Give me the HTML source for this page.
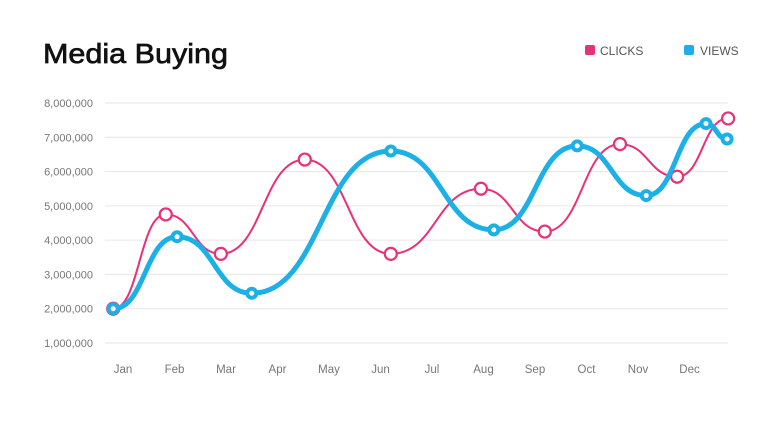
<!DOCTYPE html>
<html><head><meta charset="utf-8">
<style>
body{margin:0;background:#fff;width:768px;height:417px;overflow:hidden;font-family:"Liberation Sans",sans-serif;}
</style></head>
<body>
<svg width="768" height="417" id="chart">
<text x="43" y="63" font-size="28" textLength="185" lengthAdjust="spacingAndGlyphs" fill="#111" stroke="#111" stroke-width="0.7" style="font-family:'Liberation Sans',sans-serif">Media Buying</text>
<g>
<rect x="585" y="45" width="10" height="10" rx="2" fill="#e8317a"/>
<text x="600" y="55" font-size="12" fill="#555">CLICKS</text>
<rect x="684" y="45" width="10" height="10" rx="2" fill="#1cb0e8"/>
<text x="700" y="55" font-size="12" fill="#555">VIEWS</text>
</g>
<g id="grid"></g><g id="xaxis"></g><g id="series"></g>
</svg>
<script>
const months=["Jan","Feb","Mar","Apr","May","Jun","Jul","Aug","Sep","Oct","Nov","Dec"];
const yTicks=[1000000,2000000,3000000,4000000,5000000,6000000,7000000,8000000];
const clicksX=[-0.19,0.83,1.9,3.53,5.2,6.95,8.19,9.65,10.76,11.75];
const clicksY=[2000000,4750000,3600000,6350000,3600000,5500000,4250000,6800000,5850000,7550000];
const viewsX=[-0.19,1.05,2.5,5.2,7.2,8.82,10.16,11.32,11.73];
const viewsY=[2000000,4100000,2450000,6600000,4300000,6750000,5300000,7400000,6950000];
const NS="http://www.w3.org/2000/svg";
function sx(i){return 123+i*51.5;}
function sy(v){return 343-(v-1000000)*(240/7000000);}
function mk(tag,attrs,parent){const e=document.createElementNS(NS,tag);for(const k in attrs)e.setAttribute(k,attrs[k]);parent.appendChild(e);return e;}
const grid=document.getElementById('grid');
yTicks.forEach(t=>{
  const l=mk('line',{x1:105,x2:728,y1:sy(t),y2:sy(t),stroke:'#e6e6e6','stroke-width':1},grid);
  
  
  const tx=mk('text',{x:93,y:sy(t)+4,'text-anchor':'end','font-size':11,fill:'#777'},grid);
  tx.textContent=t.toLocaleString('en-US');
  
  
});
const xa=document.getElementById('xaxis');
months.forEach((m,i)=>{
  const tx=mk('text',{x:sx(i),y:373,'text-anchor':'middle','font-size':11.5,fill:'#777'},xa);
  tx.textContent=m;
  
  
});
function path(xs,ys){
  let d='M'+sx(xs[0])+','+sy(ys[0]);
  for(let i=1;i<xs.length;i++){
    const x0=sx(xs[i-1]),y0=sy(ys[i-1]),x1=sx(xs[i]),y1=sy(ys[i]),dx=(x1-x0)/2;
    d+=' C'+(x0+dx)+','+y0+' '+(x1-dx)+','+y1+' '+x1+','+y1;
  }
  return d;
}
const ser=document.getElementById('series');
function draw(xs,ys,color,w,r,sw,name){
  const p=mk('path',{d:path(xs,ys),fill:'none',stroke:color,'stroke-width':w,'stroke-linecap':'round'},ser);
  
  
  xs.forEach((x,i)=>{
    const c=mk('circle',{cx:sx(x),cy:sy(ys[i]),r:r,fill:'#fff',stroke:color,'stroke-width':sw},ser);
    
    
  });
}
draw(clicksX,clicksY,'#e8317a',2,6,2.2,'clicks');
draw(viewsX,viewsY,'#1cb0e8',5,4.5,4,'views');
</script>
</body></html>
